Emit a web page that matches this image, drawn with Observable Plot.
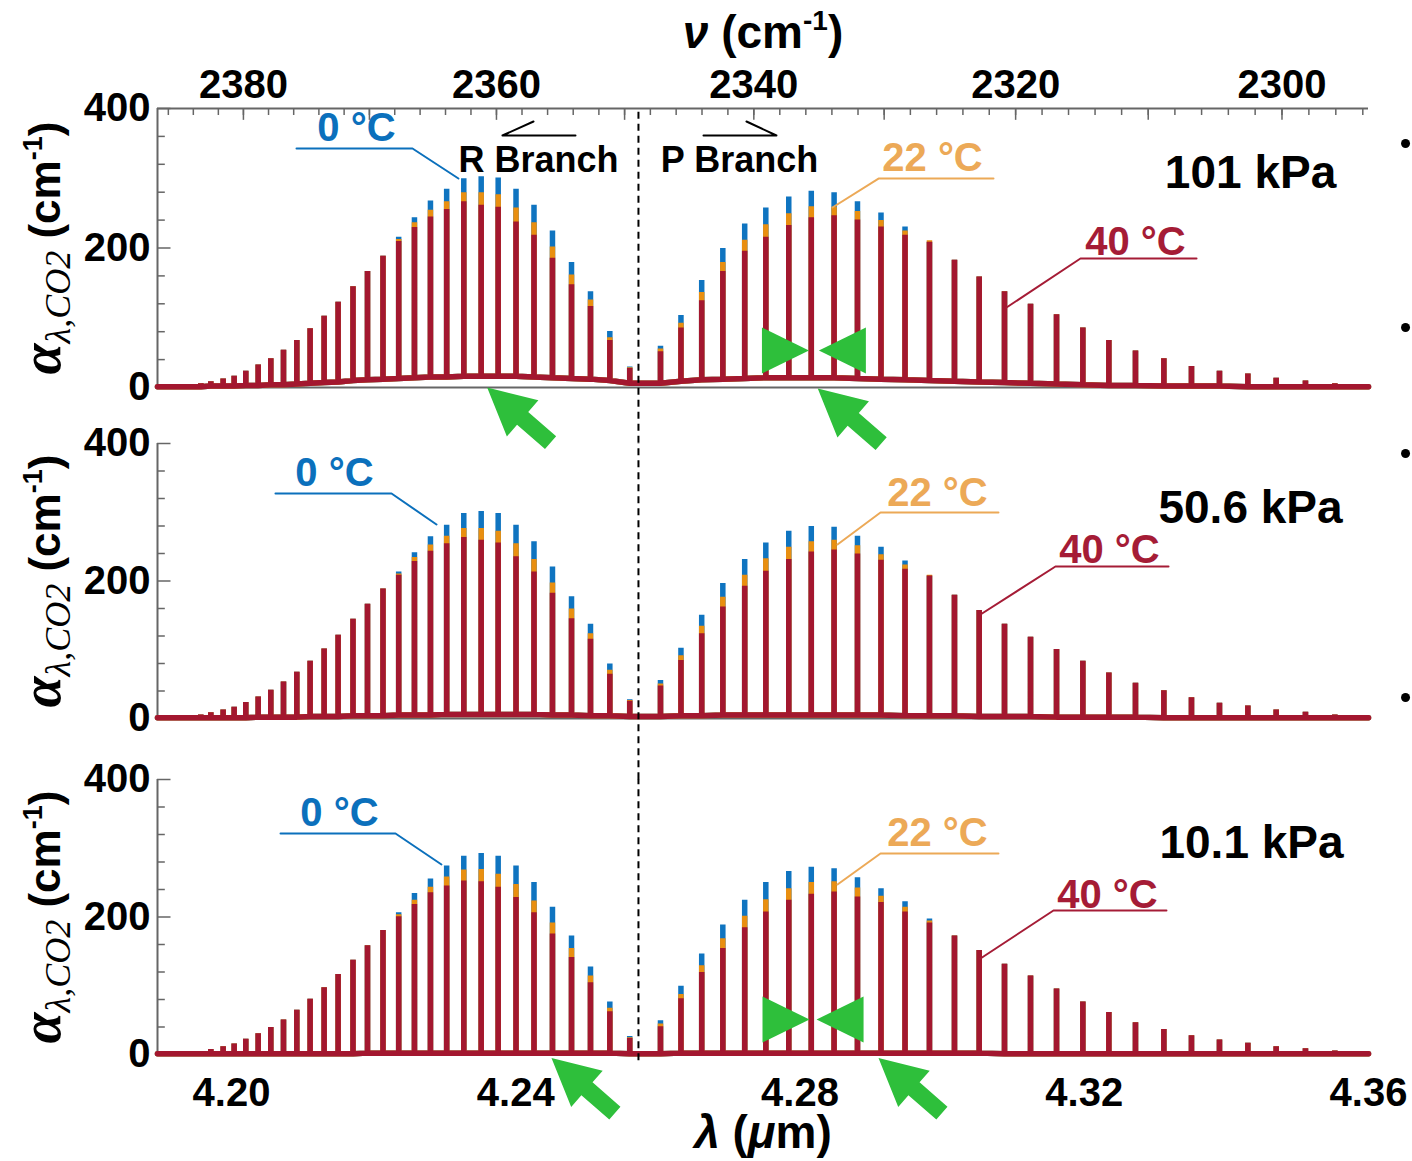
<!DOCTYPE html>
<html>
<head>
<meta charset="utf-8">
<script src="https://cdn.jsdelivr.net/npm/d3@7"></script>
<script src="https://cdn.jsdelivr.net/npm/@observablehq/plot@0.6"></script>
<style>
  body { margin: 0; background: #fff; }
  #fig { position: relative; width: 1412px; height: 1161px; overflow: hidden; background: #fff; }
  #fig svg { position: absolute; left: 0; overflow: visible; background: transparent; }
</style>
</head>
<body>
<div id="fig"></div>
<script>
// CO2 absorption lines, R branch then P branch (wavelength, µm)
const lambda = [
  4.19240, 4.19413, 4.19568, 4.19709, 4.19883, 4.20038, 4.20201, 4.20376, 4.20553, 4.20732,
  4.20919, 4.21107, 4.21304, 4.21501, 4.21710, 4.21914, 4.22132, 4.22353, 4.22575, 4.22800,
  4.23028, 4.23269, 4.23514, 4.23753, 4.24004, 4.24257, 4.24517, 4.24785, 4.25052, 4.25324,
  4.25604,
  4.26037, 4.26325, 4.26617, 4.26914, 4.27222, 4.27519, 4.27842, 4.28159, 4.28480, 4.28809,
  4.29140, 4.29478, 4.29822, 4.30174, 4.30522, 4.30878, 4.31244, 4.31610, 4.31980, 4.32346,
  4.32721, 4.33120, 4.33509, 4.33903, 4.34302, 4.34701, 4.35113, 4.35526, 4.35930
];

// Peak absorption coefficient (cm^-1) at 101 kPa
const red101 = [
  2, 4, 6, 9, 13, 17, 24, 33, 42, 54, 68, 85, 103, 123, 145, 167, 189, 210, 230, 245,
  256, 267, 262, 259, 238, 219, 186, 148, 117, 68, 28,
  52, 86, 125, 167, 196, 216, 233, 244, 247, 241, 231, 219, 209, 183, 159, 138, 120, 105, 86,
  68, 53, 42, 31, 24, 20, 14, 10, 6, 4
];
const orange101 = [
  2, 4, 6, 9, 13, 17, 24, 33, 42, 54, 68, 85, 103, 123, 145, 167, 189, 213, 237, 255,
  267, 280, 280, 277, 258, 237, 202, 162, 126, 72, 29,
  56, 93, 137, 180, 212, 234, 250, 260, 259, 253, 240, 225, 211, 183, 159, 138, 120, 105, 86,
  68, 53, 42, 31, 24, 20, 14, 10, 6, 4
];
const blue101 = [
  2, 4, 6, 9, 13, 17, 24, 33, 42, 54, 68, 85, 103, 123, 145, 167, 189, 216, 244, 268,
  285, 300, 303, 301, 285, 262, 225, 180, 138, 81, 30,
  60, 104, 154, 200, 235, 258, 274, 282, 280, 267, 251, 231, 209, 183, 159, 138, 120, 105, 86,
  68, 53, 42, 31, 24, 20, 14, 10, 6, 4
];
// Valley level between neighbouring lines at 101 kPa
const base101 = [
  1, 1, 1, 2, 2, 2, 3, 3, 4, 4, 5, 6, 7, 8, 10, 11, 12, 13, 14, 15,
  15, 16, 16, 16, 16, 15, 14, 13, 12, 10, 6,
  6, 9, 11, 12, 13, 14, 14, 14, 14, 13, 12, 11, 10, 9, 8, 7, 6, 5, 4,
  3, 3, 2, 2, 2, 1, 1, 1, 1, 1
];

// 50.6 kPa
const red506 = [
  2, 4, 6, 9, 13, 17, 24, 32, 42, 54, 68, 84, 102, 122, 145, 167, 189, 209, 229, 244,
  255, 264, 260, 256, 236, 214, 183, 146, 116, 65, 26,
  48, 85, 124, 163, 193, 215, 232, 243, 246, 240, 231, 218, 208, 180, 158, 138, 119, 101, 84,
  67, 52, 41, 31, 23, 19, 13, 10, 6, 4
];
const orange506 = [
  2, 4, 6, 9, 13, 17, 24, 32, 42, 54, 68, 84, 102, 122, 145, 167, 189, 211, 235, 253,
  266, 277, 277, 273, 255, 232, 198, 160, 124, 71, 27,
  51, 92, 135, 177, 209, 233, 250, 258, 260, 252, 239, 224, 209, 180, 158, 138, 119, 101, 84,
  67, 52, 41, 31, 23, 19, 13, 10, 6, 4
];
const blue506 = [
  2, 4, 6, 9, 13, 17, 24, 32, 42, 54, 68, 84, 102, 122, 145, 167, 189, 214, 242, 265,
  282, 299, 302, 299, 282, 258, 221, 178, 138, 80, 28,
  56, 103, 151, 197, 232, 256, 273, 280, 279, 266, 250, 230, 208, 180, 158, 138, 119, 101, 84,
  67, 52, 41, 31, 23, 19, 13, 10, 6, 4
];
const base506 = [
  1, 1, 1, 1, 1, 1, 1, 2, 2, 2, 2, 3, 3, 3, 4, 4, 4, 5, 5, 5,
  6, 6, 6, 6, 6, 6, 5, 5, 4, 4, 3,
  3, 4, 4, 5, 5, 5, 5, 5, 5, 5, 5, 4, 4, 4, 3, 3, 3, 2, 2,
  2, 2, 1, 1, 1, 1, 1, 1, 1, 1
];

// 10.1 kPa
const red101k = [
  2, 4, 5, 8, 12, 16, 23, 31, 40, 51, 65, 81, 98, 117, 138, 159, 181, 201, 219, 236,
  246, 253, 252, 244, 229, 207, 176, 142, 105, 63, 24,
  41, 82, 120, 155, 185, 208, 225, 234, 237, 230, 222, 208, 192, 173, 152, 132, 115, 96, 77,
  62, 47, 37, 28, 22, 17, 12, 9, 6, 4
];
const orange101k = [
  2, 4, 5, 8, 12, 16, 23, 31, 40, 51, 65, 81, 98, 117, 138, 159, 181, 204, 225, 244,
  259, 269, 270, 263, 248, 224, 192, 155, 115, 68, 25,
  45, 88, 130, 169, 202, 226, 242, 251, 252, 243, 231, 215, 195, 173, 152, 132, 115, 96, 77,
  62, 47, 37, 28, 22, 17, 12, 9, 6, 4
];
const blue101k = [
  2, 4, 5, 8, 12, 16, 23, 31, 40, 51, 65, 81, 98, 117, 138, 159, 181, 207, 235, 256,
  275, 289, 293, 289, 275, 251, 215, 173, 128, 77, 27,
  50, 100, 147, 189, 225, 251, 267, 273, 271, 258, 242, 223, 198, 173, 152, 132, 115, 96, 77,
  62, 47, 37, 28, 22, 17, 12, 9, 6, 4
];
const base101k = [
  1, 1, 1, 1, 1, 1, 1, 1, 1, 1, 1, 1, 1, 1, 1, 2, 2, 2, 2, 2,
  2, 2, 2, 2, 2, 2, 2, 2, 2, 2, 1,
  1, 2, 2, 2, 2, 2, 2, 2, 2, 2, 2, 2, 2, 2, 2, 1, 1, 1, 1,
  1, 1, 1, 1, 1, 1, 1, 1, 1, 1
];

// Axis ticks
const lambdaTicks = [4.20, 4.24, 4.28, 4.32, 4.36];
const alphaTicks = [0, 200, 400];
const alphaMinor = [40, 80, 120, 160, 240, 280, 320, 360];
const nuLabels = [2380, 2360, 2340, 2320, 2300];
const nuMajor = [2380, 2370, 2360, 2350, 2340, 2330, 2320, 2310, 2300];
const nuMinor = d3.range(2294, 2388, 2);

const LMIN = 4.18959, LMAX = 4.36, BAND_CENTER = 4.25727;
const BLUE = "#0f74c0", ORANGE = "#e98f10", RED = "#a3172f";
const BLUE_TXT = "#0b70bc", ORANGE_TXT = "#eca957", RED_TXT = "#a51c36";
const GREEN = "#2ebf3b", AXIS = "#666";
const SANS = "'Liberation Sans', Arial, sans-serif";

// Green block arrow (tip at origin) and wedge shapes
const ang = 41 * Math.PI / 180;
const rot = ([u, v]) => [u * Math.cos(ang) - v * Math.sin(ang), u * Math.sin(ang) + v * Math.cos(ang)];
const arrowSymbol = {
  draw(ctx) {
    const pts = [[0, 0], [47, -24], [47, -8.5], [84, -8.5], [84, 8.5], [47, 8.5], [47, 24]].map(rot);
    ctx.moveTo(...pts[0]);
    for (const p of pts.slice(1)) ctx.lineTo(...p);
    ctx.closePath();
  }
};
const wedgeLeft = { draw(ctx) { ctx.moveTo(0, 0); ctx.lineTo(47, -23); ctx.lineTo(47, 23); ctx.closePath(); } };
const wedgeRight = { draw(ctx) { ctx.moveTo(0, 0); ctx.lineTo(-47, -23); ctx.lineTo(-47, 23); ctx.closePath(); } };

// One spectrum trace: rises from the valley to each line's peak and back down
function trace(heights, base) {
  const pts = [{l: LMIN, a: base[0]}];
  lambda.forEach((l, i) => {
    pts.push({l, a: base[i]}, {l, a: heights[i]}, {l, a: base[i]});
  });
  pts.push({l: LMAX, a: base[base.length - 1]});
  return pts;
}

function panel(cfg) {
  const lineStyle = {x: "l", y: "a", strokeWidth: 5.5, strokeLinejoin: "miter", strokeMiterlimit: 1};
  const marks = [
    Plot.ruleY([0], {x1: LMIN, x2: LMAX, stroke: AXIS, strokeWidth: 2}),
    Plot.ruleX([LMIN], {y1: 0, y2: 400, stroke: AXIS, strokeWidth: 2}),
    Plot.ruleY(alphaTicks, {x1: LMIN, x2: LMIN + 0.0019, stroke: AXIS, strokeWidth: 1.5}),
    Plot.ruleY(alphaMinor, {x1: LMIN, x2: LMIN + 0.0011, stroke: AXIS, strokeWidth: 1.5}),
    Plot.axisY({ticks: alphaTicks, tickSize: 0, tickPadding: 7, label: null, fontSize: 40}),
    Plot.text(["@ylabel"], {frameAnchor: "left", dx: -110, rotate: -90, textAnchor: "middle", lineAnchor: "middle", text: d => d}),
    // spectra: 0 °C, 22 °C, 40 °C drawn back to front
    Plot.line(trace(cfg.blue, cfg.base), {...lineStyle, stroke: BLUE}),
    Plot.line(trace(cfg.orange, cfg.base), {...lineStyle, stroke: ORANGE}),
    Plot.line(trace(cfg.red, cfg.base), {...lineStyle, stroke: RED}),
    Plot.ruleX([BAND_CENTER], {y1: cfg.dashFrom, y2: 400, stroke: "#000", strokeWidth: 2, strokeDasharray: "7,5"}),
    Plot.text([cfg.pressure], {x: cfg.pressure.x, y: cfg.pressure.y, text: d => d.label, fontSize: 46, fill: "#000"})
  ];
  for (const c of cfg.callouts) {
    marks.push(Plot.line(c.path, {x: d => d[0], y: d => d[1], stroke: c.color, strokeWidth: 2}));
    marks.push(Plot.text([c], {x: d => d.tx, y: d => d.ty, text: d => d.label, fill: c.color, fontSize: 40}));
  }
  if (cfg.arrows) {
    marks.push(Plot.dot(cfg.arrows, {x: d => d[0], y: d => d[1], symbol: arrowSymbol, r: 2, fill: GREEN, stroke: "none"}));
  }
  if (cfg.wedges) {
    marks.push(Plot.dot([cfg.wedges[0]], {x: d => d[0], y: d => d[1], symbol: wedgeRight, r: 2, fill: GREEN, stroke: "none"}));
    marks.push(Plot.dot([cfg.wedges[1]], {x: d => d[0], y: d => d[1], symbol: wedgeLeft, r: 2, fill: GREEN, stroke: "none"}));
  }
  if (cfg.bullets) {
    marks.push(Plot.dot(cfg.bullets, {x: d => d[0], y: d => d[1], r: 4.5, fill: "#000", stroke: "none"}));
  }
  marks.push(...(cfg.extra || []));

  const svg = Plot.plot({
    width: 1412,
    height: cfg.height,
    marginLeft: 157,
    marginRight: 44,
    marginTop: cfg.marginTop,
    marginBottom: cfg.marginBottom,
    x: {domain: [LMIN, LMAX], axis: cfg.xAxis ? undefined : null},
    y: {domain: [0, 400]},
    style: {fontFamily: SANS, fontSize: "40px", fontWeight: "bold", background: "transparent", overflow: "visible", color: "#000"},
    marks
  });
  svg.style.top = cfg.top + "px";
  return svg;
}

const fig = document.getElementById("fig");

// 101 kPa panel with the wavenumber axis on top
fig.appendChild(panel({
  top: 0, height: 450, marginTop: 108, marginBottom: 63, dashFrom: -80,
  red: red101, orange: orange101, blue: blue101, base: base101,
  pressure: {label: "101 kPa", x: 4.34340, y: 306.8},
  callouts: [
    {label: "0 °C", color: BLUE_TXT, tx: 4.21759, ty: 371.3, path: [[4.20915, 342.7], [4.22547, 342.7], [4.23194, 299.6]]},
    {label: "22 °C", color: ORANGE_TXT, tx: 4.29865, ty: 328.3, path: [[4.30723, 299.6], [4.29105, 299.6], [4.28457, 258.1]]},
    {label: "40 °C", color: RED_TXT, tx: 4.32721, ty: 207.9, path: [[4.33580, 184.9], [4.31947, 184.9], [4.30906, 114.7]]}
  ],
  arrows: [[4.23598, 0], [4.28250, -1.4]],
  wedges: [[4.28126, 53], [4.28266, 53]],
  bullets: [[4.36521, 349.8], [4.36521, 86]],
  xAxis: true,
  extra: [
    Plot.ruleY([400], {x1: LMIN, x2: LMAX, stroke: AXIS, strokeWidth: 2}),
    Plot.ruleX(nuMinor.map(n => 1e4 / n).filter(l => l > LMIN && l < LMAX), {y1: 400, y2: 390, stroke: AXIS, strokeWidth: 1.5}),
    Plot.ruleX(nuMajor.map(n => 1e4 / n), {y1: 400, y2: 383, stroke: AXIS, strokeWidth: 1.5}),
    Plot.axisX({anchor: "top", ticks: nuLabels.map(n => 1e4 / n), tickFormat: d => String(Math.round(1e4 / d)), tickSize: 0, tickPadding: 11, label: null, fontSize: 40}),
    Plot.text(["@nulabel"], {frameAnchor: "top", dy: -73, lineAnchor: "middle", text: d => d}),
    Plot.text(["R Branch"], {x: 4.24320, y: 325.4, text: d => d, fontSize: 36}),
    Plot.text(["P Branch"], {x: 4.27149, y: 325.4, text: d => d, fontSize: 36}),
    Plot.line([[4.24841, 361.3], [4.23813, 361.3], [4.24250, 381.4]], {x: d => d[0], y: d => d[1], stroke: "#000", strokeWidth: 2}),
    Plot.line([[4.26642, 361.3], [4.27669, 361.3], [4.27247, 381.4]], {x: d => d[0], y: d => d[1], stroke: "#000", strokeWidth: 2})
  ]
}));

// 50.6 kPa panel
fig.appendChild(panel({
  top: 400, height: 400, marginTop: 43, marginBottom: 82, dashFrom: -89,
  red: red506, orange: orange506, blue: blue506, base: base506,
  pressure: {label: "50.6 kPa", x: 4.34340, y: 305.5},
  callouts: [
    {label: "0 °C", color: BLUE_TXT, tx: 4.21449, ty: 356.4, path: [[4.20619, 327.3], [4.22252, 327.3], [4.22885, 282.2]]},
    {label: "22 °C", color: ORANGE_TXT, tx: 4.29935, ty: 327.3, path: [[4.30793, 299.6], [4.29133, 299.6], [4.28528, 253.1]]},
    {label: "40 °C", color: RED_TXT, tx: 4.32355, ty: 244.4, path: [[4.33186, 221.1], [4.31595, 221.1], [4.30540, 151.3]]}
  ],
  bullets: [[4.36521, 385.5], [4.36521, 30.5]]
}));

// 10.1 kPa panel with the wavelength axis below
fig.appendChild(panel({
  top: 736, height: 425, marginTop: 43, marginBottom: 107, dashFrom: -9,
  red: red101k, orange: orange101k, blue: blue101k, base: base101k,
  pressure: {label: "10.1 kPa", x: 4.34354, y: 306.9},
  callouts: [
    {label: "0 °C", color: BLUE_TXT, tx: 4.21520, ty: 350.5, path: [[4.20690, 321.5], [4.22308, 321.5], [4.22955, 276.4]]},
    {label: "22 °C", color: ORANGE_TXT, tx: 4.29935, ty: 321.5, path: [[4.30793, 292.4], [4.29133, 292.4], [4.28528, 247.3]]},
    {label: "40 °C", color: RED_TXT, tx: 4.32327, ty: 231.3, path: [[4.33157, 209.5], [4.31567, 209.5], [4.30540, 139.6]]}
  ],
  arrows: [[4.24503, -5], [4.29105, -5]],
  wedges: [[4.28134, 50.9], [4.28233, 50.9]],
  xAxis: true,
  extra: [
    Plot.axisX({ticks: lambdaTicks, tickFormat: d3.format(".2f"), tickSize: 0, tickPadding: 23, label: null, fontSize: 40}),
    Plot.text(["@lambdalabel"], {frameAnchor: "bottom", dy: 81, lineAnchor: "middle", text: d => d})
  ]
}));

// Rich-text axis titles (italics, sub- and superscripts)
const rich = {
  "@ylabel": [
    {t: "α", font: "'Liberation Serif', serif", style: "italic", weight: "bold", size: 56},
    {t: "λ,CO2", font: "'Liberation Serif', serif", style: "italic", weight: "normal", size: 36, dy: 10},
    {t: " (cm", size: 44, dy: -10},
    {t: "-1", size: 27, dy: -18},
    {t: ")", size: 44, dy: 18}
  ],
  "@nulabel": [
    {t: "ν", style: "italic", size: 46},
    {t: " (cm", size: 46},
    {t: "-1", size: 28, dy: -18},
    {t: ")", size: 46, dy: 18}
  ],
  "@lambdalabel": [
    {t: "λ", style: "italic", size: 46},
    {t: " (", size: 46},
    {t: "μ", style: "italic", size: 46},
    {t: "m)", size: 46}
  ]
};
d3.select(fig).selectAll("text").each(function () {
  const parts = rich[this.textContent];
  if (!parts) return;
  const t = d3.select(this).text(null);
  for (const p of parts) {
    const s = t.append("tspan").text(p.t)
      .style("font-family", p.font || SANS)
      .style("font-style", p.style || "normal")
      .style("font-weight", p.weight || "bold")
      .style("font-size", p.size + "px");
    if (p.dy) s.attr("dy", p.dy);
  }
});
</script>
</body>
</html>
